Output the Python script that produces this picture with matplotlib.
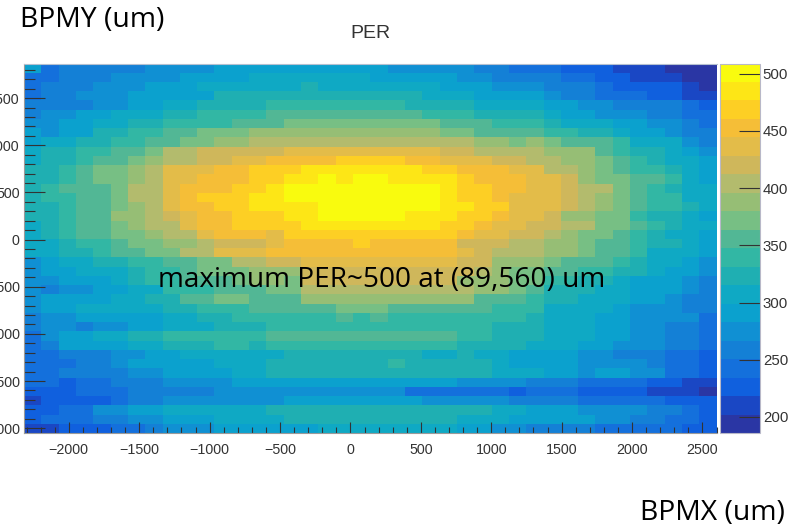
import numpy as np
import matplotlib
matplotlib.use("Agg")
import matplotlib.pyplot as plt
from matplotlib.colors import ListedColormap, BoundaryNorm
from matplotlib.ticker import MultipleLocator

# colour band index of each cell, top row first
per_bands = [
    [6,3,4,4,4,4,4,5,5,5,5,6,6,6,6,6,6,6,6,6,6,5,5,5,5,5,4,4,3,3,3,2,2,2,1,1,1,0,0,0],
    [3,3,4,4,4,5,5,5,5,6,6,6,6,7,7,7,7,7,7,7,6,6,6,6,6,5,5,4,4,4,4,3,3,2,2,1,1,1,0,0],
    [3,4,4,4,5,5,5,6,6,6,7,7,7,7,7,7,8,7,7,7,7,7,7,7,6,6,6,5,5,5,4,4,4,3,2,2,2,2,1,0],
    [3,4,4,5,5,5,6,6,6,6,6,8,8,8,8,8,8,8,8,8,8,8,8,7,7,7,6,6,6,6,5,4,4,3,3,3,2,2,1,1],
    [4,4,4,4,5,5,6,6,7,7,8,8,8,8,9,9,9,9,9,9,9,9,8,8,8,8,7,7,7,7,6,6,5,5,4,4,4,4,3,2],
    [4,5,5,6,6,7,7,7,8,8,9,9,9,9,10,10,10,10,10,10,10,10,10,9,9,9,8,8,8,8,7,6,6,5,5,5,4,4,3,3],
    [5,5,6,6,7,7,8,8,9,9,9,9,10,10,10,11,11,11,11,11,11,11,11,11,10,10,10,9,9,9,8,7,7,7,6,6,5,5,4,3],
    [6,5,6,6,8,8,9,9,10,10,11,11,11,12,12,12,12,12,12,12,12,12,12,12,11,11,10,10,10,10,9,9,8,8,7,6,6,5,4,4],
    [6,7,7,8,8,9,9,10,10,11,11,12,12,13,13,13,13,13,13,13,13,13,13,13,13,13,12,12,11,12,11,10,10,10,9,7,7,7,5,4],
    [7,8,8,9,9,10,10,11,13,13,14,14,14,14,14,15,15,15,15,15,15,15,15,15,14,14,13,13,13,13,12,12,12,10,9,8,8,7,6,5],
    [7,8,8,9,10,10,11,12,13,13,14,14,15,15,16,16,16,16,17,17,17,17,16,16,15,15,15,14,14,13,13,12,12,11,10,9,8,7,7,6],
    [8,8,9,10,11,11,12,13,15,15,15,16,16,17,17,17,18,18,18,18,18,18,18,17,17,16,16,16,15,15,13,13,12,11,10,9,9,8,7,6],
    [8,8,9,10,11,11,12,13,15,15,16,16,16,17,17,18,18,19,18,19,19,18,18,18,18,17,16,16,16,15,15,14,12,11,11,10,10,9,7,6],
    [8,9,10,10,10,11,13,13,15,16,16,16,17,17,18,19,19,19,19,19,19,19,19,19,18,17,17,16,16,15,15,14,13,13,11,10,9,8,7,7],
    [8,9,9,10,10,11,13,13,15,16,17,17,17,18,18,19,19,19,19,19,19,19,19,19,18,17,17,16,15,15,15,14,13,12,11,10,9,9,7,7],
    [8,8,9,10,10,11,12,13,15,16,16,17,17,18,18,18,18,19,19,19,19,19,19,19,18,18,17,17,15,15,15,14,13,12,11,10,9,9,8,7],
    [8,8,9,10,10,12,12,13,14,15,16,16,17,17,17,18,18,19,19,19,19,19,18,18,18,17,17,16,15,15,14,12,12,11,11,9,8,8,7,6],
    [7,8,9,10,10,11,12,13,13,15,16,16,17,17,17,17,18,18,18,18,18,18,18,18,17,17,16,15,15,14,14,13,13,11,11,10,9,8,7,7],
    [7,8,9,10,10,11,11,12,13,13,15,16,16,16,15,17,17,17,17,17,17,17,17,17,17,16,15,15,14,14,13,12,11,11,10,9,8,7,7,6],
    [7,7,8,9,9,10,11,11,12,12,13,14,14,14,15,16,16,16,16,17,16,16,16,16,16,14,14,14,13,13,12,12,11,10,10,9,8,8,7,6],
    [7,7,8,8,9,10,10,11,11,13,13,15,15,15,16,16,16,16,16,16,16,16,16,16,16,15,14,13,13,13,12,12,11,10,10,9,7,7,7,6],
    [5,6,7,7,8,8,9,9,10,10,11,11,13,13,14,14,15,15,15,15,15,15,15,15,15,14,14,12,12,12,11,10,10,10,9,8,7,7,6,5],
    [5,6,6,7,7,7,8,9,9,10,11,11,11,12,12,12,14,14,14,14,14,14,14,14,14,14,13,12,11,11,10,10,9,9,8,8,7,6,6,5],
    [5,5,6,6,6,7,8,9,9,10,10,10,11,12,12,11,14,14,14,14,14,14,14,14,14,12,12,12,11,11,9,9,8,8,7,6,6,6,5,4],
    [5,4,5,5,6,6,7,7,9,9,9,10,10,10,11,11,13,13,13,13,13,13,13,13,13,13,12,12,11,10,8,8,8,7,7,6,6,6,5,4],
    [5,6,6,6,6,7,7,8,8,10,10,11,11,10,10,10,12,12,12,12,12,12,12,12,12,12,10,10,10,9,8,8,7,7,7,6,6,5,4,4],
    [5,6,6,7,7,7,7,7,8,8,9,9,9,10,10,10,10,10,11,11,11,10,10,10,10,10,10,9,9,9,7,7,7,7,6,5,5,5,4,4],
    [4,5,5,6,6,6,6,6,7,7,8,8,9,9,9,9,9,9,10,9,10,9,9,9,9,9,9,9,9,8,7,7,7,6,6,5,5,5,5,3],
    [4,5,5,4,5,5,6,6,7,7,7,8,8,8,9,9,9,9,9,9,9,9,9,9,9,9,9,8,8,8,7,7,7,6,6,5,5,4,4,3],
    [3,5,6,6,7,7,8,8,9,9,9,9,9,9,10,10,10,10,10,10,10,10,10,10,10,9,9,8,8,8,7,7,7,6,6,5,5,4,4,3],
    [3,4,6,6,6,6,7,7,8,8,8,9,9,8,9,9,9,9,9,9,9,9,9,9,9,8,8,8,8,7,7,7,6,6,5,5,5,4,4,3],
    [3,3,4,4,4,5,5,6,6,7,7,7,7,7,7,8,8,8,8,8,8,8,8,7,7,8,7,7,6,6,6,6,5,5,4,4,4,3,3,2],
    [3,3,3,4,4,5,6,6,6,6,6,7,7,7,8,8,8,8,8,8,8,9,8,8,8,8,8,7,6,6,6,6,5,5,5,5,4,3,3,2],
    [3,3,4,4,4,4,5,5,6,6,6,6,7,7,8,8,8,8,8,8,8,8,8,8,8,8,8,7,7,7,6,6,5,6,6,5,5,3,3,2],
    [3,3,2,3,3,4,4,4,5,5,5,5,6,6,6,6,6,6,6,6,6,6,6,6,6,5,5,5,5,4,4,4,3,3,3,3,2,2,1,1],
    [2,2,2,3,3,3,4,4,4,4,4,5,5,5,5,5,5,5,5,5,5,5,3,3,3,3,3,3,2,3,3,3,2,2,2,2,1,1,1,0],
    [1,2,2,2,2,3,4,4,5,5,5,5,5,5,5,6,6,6,6,6,6,6,6,5,5,5,5,5,4,4,4,4,3,3,3,3,3,2,2,2],
    [2,2,3,3,5,5,6,6,7,7,7,7,7,7,8,8,8,8,8,8,8,8,8,8,8,8,8,7,7,6,6,6,5,5,5,5,4,4,3,2],
    [2,3,3,3,4,4,5,5,6,6,6,7,7,7,7,8,8,8,8,8,8,8,8,8,8,7,7,7,6,6,6,6,6,5,5,4,4,3,3,2],
    [1,1,2,2,2,3,3,4,5,5,5,6,6,6,6,6,6,7,7,7,7,7,7,7,7,6,6,5,5,4,4,4,4,3,3,3,3,3,2,2],
]

x_range = [-2318, 2601]
y_range = [-2051, 1868]
per_range = [186, 509]

x_ticks = [-2000, -1500, -1000, -500, 0, 500, 1000, 1500, 2000, 2500]
y_ticks = [-2000, -1500, -1000, -500, 0, 500, 1000, 1500]
bar_ticks = [200, 250, 300, 350, 400, 450, 500]

# the bands of the colour bar, from bottom to top
band_colors = ["#2a36a4", "#1a47c4", "#1060de", "#1470dc", "#1480d6", "#1090d3", "#0ba1ce",
               "#0fa9c4", "#1fafb2", "#32b7a4", "#52b795", "#77bf84", "#96be75", "#b3bb6d",
               "#cfb75b", "#e3bc49", "#f5be37", "#fdcf24", "#fde616", "#f9fb0e"]

W, H = 800.0, 529.0
TICK_FONT = "Liberation Sans"
NOTE_FONT = "Open Sans"
TICK_COL = "#333333"
EDGE_COL = "#9a9a9a"


def main():
    fig = plt.figure(figsize=(8, 5.29), dpi=100)
    ax = fig.add_axes([24 / W, 1 - 433 / H, (716.7 - 24) / W, (433 - 63.5) / H])
    cax = fig.add_axes([720 / W, 1 - 433 / H, 40 / W, (433 - 63.5) / H])

    n_bands = len(band_colors)
    cmap = ListedColormap(band_colors)
    edges = np.linspace(per_range[0], per_range[1], n_bands + 1)
    norm = BoundaryNorm(edges, n_bands)

    # each cell sits at the middle of its colour band
    centres = (edges[:-1] + edges[1:]) / 2
    per = centres[np.array(per_bands)]

    xe = np.linspace(x_range[0], x_range[1], per.shape[1] + 1)
    ye = np.linspace(y_range[1], y_range[0], per.shape[0] + 1)
    mesh = ax.pcolormesh(xe, ye, per, cmap=cmap, norm=norm)

    ax.set_xlim(x_range)
    ax.set_ylim(y_range)
    ax.set_xticks(x_ticks)
    ax.set_yticks(y_ticks)
    ax.xaxis.set_minor_locator(MultipleLocator(100))
    ax.yaxis.set_minor_locator(MultipleLocator(100))
    ax.tick_params(axis="x", which="major", direction="in", length=8, width=0.8, color=TICK_COL,
                   labelsize=10.3, labelcolor=TICK_COL, pad=7)
    ax.tick_params(axis="x", which="minor", direction="in", length=4.3, width=0.8, color=TICK_COL)
    ax.tick_params(axis="y", which="major", direction="in", length=15, width=0.8, color=TICK_COL,
                   labelsize=10.3, labelcolor=TICK_COL, pad=3)
    ax.tick_params(axis="y", which="minor", direction="in", length=8, width=0.8, color=TICK_COL)
    for lab in ax.get_xticklabels() + ax.get_yticklabels():
        lab.set_family(TICK_FONT)
    for name, sp in ax.spines.items():
        sp.set_color(EDGE_COL)
        sp.set_linewidth(0.8)
    ax.spines["right"].set_visible(False)
    ax.spines["top"].set_color("#b5c0d0")

    cb = fig.colorbar(mesh, cax=cax, spacing="proportional", drawedges=False)
    cb.set_ticks(bar_ticks)
    cb.ax.minorticks_off()
    cb.ax.tick_params(direction="in", length=15, width=0.8, color="#333333", labelsize=10.8,
                      labelcolor=TICK_COL, pad=2, right=True)
    for lab in cb.ax.get_yticklabels():
        lab.set_family(TICK_FONT)
    cb.outline.set_edgecolor("#b8b8c8")
    cb.outline.set_linewidth(0.8)

    fig.text(370.5 / W, 1 - 33 / H, "PER", ha="center", va="center", family=TICK_FONT, fontsize=14, color="#333333")
    fig.text(20 / W, 1 - 20 / H, "BPMY (um)", ha="left", va="center", family=NOTE_FONT, fontsize=20.4, color="black")
    fig.text(640 / W, 1 - 513 / H, "BPMX (um)", ha="left", va="center", family=NOTE_FONT, fontsize=20.4, color="black")
    fig.text(158 / W, 1 - 280 / H, "maximum PER~500 at (89,560) um", ha="left", va="center",
             family=NOTE_FONT, fontsize=20.2, color="black")

    fig.savefig("out.png", dpi=100)


if __name__ == "__main__":
    main()
